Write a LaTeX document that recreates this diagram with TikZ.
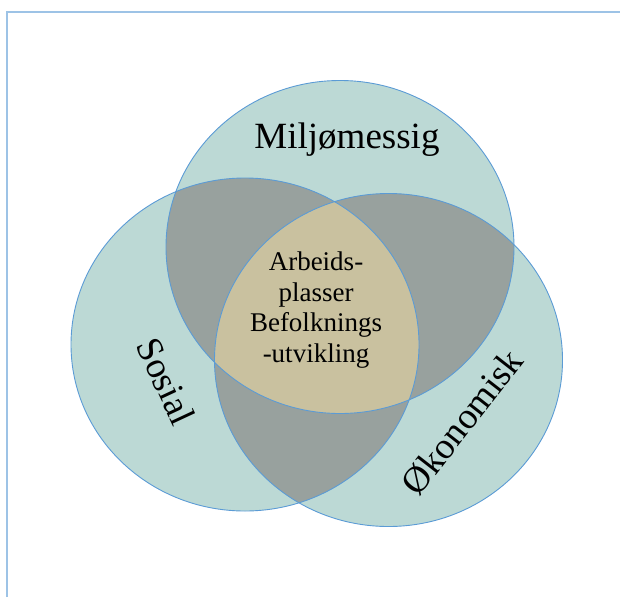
\documentclass[tikz,border=0pt]{standalone}
\usepackage{fontspec}
\setmainfont{Liberation Serif}
\definecolor{lightfill}{HTML}{BCD9D5}
\definecolor{grayfill}{HTML}{98A19E}
\definecolor{tanfill}{HTML}{C9C19F}
\definecolor{outline}{HTML}{5B9BD5}
\definecolor{framecol}{HTML}{9DC3E6}
\begin{document}
\begin{tikzpicture}[x=1pt,y=-1pt,
  ring/.style={draw=outline, line width=0.9pt},
  biglabel/.style={font=\fontsize{37}{40}\selectfont, inner sep=0pt},
  centerlabel/.style={font=\fontsize{27}{30.7}\selectfont, align=center, inner sep=0pt}]
\useasboundingbox (0,0) rectangle (620,597);
% frame
\draw[framecol, line width=1.5pt] (7,597) -- (7,12) -- (620,12);
% base fills
\fill[lightfill] (340,247) ellipse [x radius=174pt, y radius=166.5pt];
\fill[lightfill] (245,344.5) ellipse [x radius=174pt, y radius=166.5pt];
\fill[lightfill] (388.5,360) ellipse [x radius=174pt, y radius=166.5pt];
% pairwise overlaps
\begin{scope}
  \clip (340,247) ellipse [x radius=174pt, y radius=166.5pt];
  \fill[grayfill] (245,344.5) ellipse [x radius=174pt, y radius=166.5pt];
  \fill[grayfill] (388.5,360) ellipse [x radius=174pt, y radius=166.5pt];
\end{scope}
\begin{scope}
  \clip (245,344.5) ellipse [x radius=174pt, y radius=166.5pt];
  \fill[grayfill] (388.5,360) ellipse [x radius=174pt, y radius=166.5pt];
\end{scope}
% triple overlap
\begin{scope}
  \clip (340,247) ellipse [x radius=174pt, y radius=166.5pt];
  \clip (245,344.5) ellipse [x radius=174pt, y radius=166.5pt];
  \fill[tanfill] (388.5,360) ellipse [x radius=174pt, y radius=166.5pt];
\end{scope}
% outlines
\draw[ring] (340,247) ellipse [x radius=174pt, y radius=166.5pt];
\draw[ring] (245,344.5) ellipse [x radius=174pt, y radius=166.5pt];
\draw[ring] (388.5,360) ellipse [x radius=174pt, y radius=166.5pt];
% labels
\node[biglabel, anchor=base] (milj) at (347,148) {Miljømessig};
\node[biglabel, rotate=-65] (sos) at (166,381) {Sosial};
\node[biglabel, rotate=52] (oko) at (462,422) {Økonomisk};
\node[centerlabel] (mid) at (316,310) {Arbeids-\\plasser\\Befolknings\\-utvikling};
\end{tikzpicture}
\end{document}
